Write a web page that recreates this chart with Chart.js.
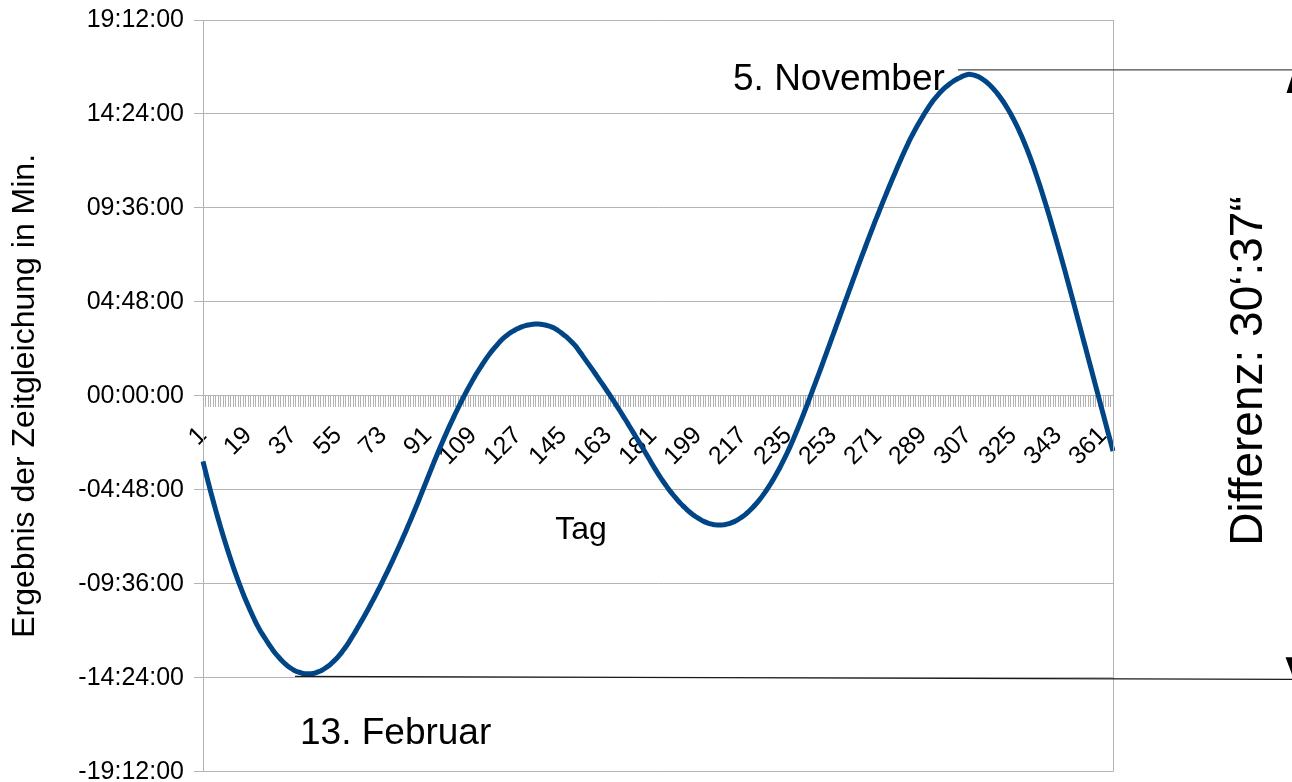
<!DOCTYPE html>
<html>
<head>
<meta charset="utf-8">
<title>Zeitgleichung</title>
<script src="https://cdn.jsdelivr.net/npm/chart.js@4/dist/chart.umd.min.js"></script>
<style>
  html, body { margin: 0; padding: 0; background: #ffffff; overflow: hidden; }
  canvas { display: block; }
</style>
</head>
<body>
<canvas id="chart" width="1292" height="782"></canvas>
<script>
// Zeitgleichung (Minuten) für jeden Tag des Jahres, Monat für Monat
const jan = [-3.35,-3.86,-4.37,-4.86,-5.33,-5.8,-6.25,-6.69,-7.12,-7.53,-7.93,-8.32,-8.7,-9.07,-9.42,-9.76,-10.09,-10.4,-10.7,-10.99,-11.27,-11.54,-11.79,-12.02,-12.22,-12.42,-12.62,-12.81,-12.99,-13.16,-13.31];
const feb = [-13.45,-13.58,-13.7,-13.81,-13.9,-13.98,-14.05,-14.1,-14.14,-14.18,-14.19,-14.2,-14.19,-14.18,-14.15,-14.1,-14.05,-13.98,-13.9,-13.81,-13.71,-13.59,-13.47,-13.33,-13.18,-13.01,-12.84,-12.65];
const mar = [-12.45,-12.24,-12.03,-11.81,-11.59,-11.37,-11.14,-10.91,-10.67,-10.43,-10.19,-9.94,-9.69,-9.43,-9.17,-8.91,-8.64,-8.37,-8.09,-7.81,-7.53,-7.24,-6.95,-6.65,-6.35,-6.05,-5.74,-5.43,-5.11,-4.79,-4.47];
const apr = [-4.15,-3.83,-3.51,-3.2,-2.89,-2.59,-2.29,-2.0,-1.71,-1.43,-1.16,-0.89,-0.63,-0.37,-0.12,0.13,0.37,0.6,0.83,1.05,1.26,1.46,1.66,1.85,2.03,2.2,2.36,2.51,2.66,2.8];
const may = [2.93,3.04,3.14,3.23,3.31,3.38,3.44,3.5,3.55,3.59,3.62,3.64,3.66,3.67,3.67,3.66,3.64,3.62,3.58,3.54,3.49,3.42,3.34,3.25,3.15,3.05,2.94,2.82,2.69,2.55,2.38];
const jun = [2.2,2.02,1.84,1.66,1.48,1.3,1.12,0.93,0.74,0.56,0.37,0.18,-0.01,-0.21,-0.41,-0.61,-0.81,-1.02,-1.22,-1.43,-1.64,-1.85,-2.06,-2.27,-2.48,-2.69,-2.91,-3.12,-3.34,-3.56];
const jul = [-3.77,-3.97,-4.17,-4.36,-4.54,-4.72,-4.89,-5.05,-5.2,-5.35,-5.49,-5.62,-5.74,-5.86,-5.97,-6.07,-6.16,-6.24,-6.32,-6.39,-6.45,-6.5,-6.54,-6.57,-6.59,-6.6,-6.6,-6.59,-6.57,-6.54,-6.5];
const aug = [-6.45,-6.39,-6.32,-6.24,-6.15,-6.05,-5.94,-5.82,-5.69,-5.55,-5.4,-5.24,-5.07,-4.89,-4.7,-4.5,-4.29,-4.07,-3.84,-3.6,-3.35,-3.09,-2.82,-2.54,-2.25,-1.95,-1.64,-1.32,-1.0,-0.67,-0.34];
const sep = [0.0,0.34,0.68,1.02,1.36,1.71,2.06,2.41,2.76,3.11,3.46,3.81,4.16,4.51,4.86,5.21,5.56,5.91,6.26,6.61,6.95,7.29,7.63,7.97,8.3,8.63,8.96,9.28,9.6,9.92];
const oct = [10.23,10.54,10.85,11.15,11.45,11.75,12.04,12.33,12.61,12.88,13.15,13.39,13.63,13.86,14.08,14.29,14.5,14.7,14.89,15.07,15.23,15.38,15.52,15.65,15.77,15.87,15.97,16.06,16.14,16.21,16.27];
const nov = [16.34,16.39,16.42,16.42,16.4,16.36,16.31,16.24,16.16,16.07,15.96,15.84,15.71,15.56,15.4,15.23,15.05,14.85,14.64,14.42,14.18,13.93,13.67,13.39,13.1,12.79,12.47,12.13,11.78,11.41];
const dec = [11.03,10.64,10.24,9.83,9.41,8.98,8.54,8.1,7.65,7.2,6.74,6.28,5.81,5.34,4.86,4.38,3.9,3.42,2.94,2.46,1.98,1.5,1.02,0.54,0.06,-0.42,-0.9,-1.38,-1.86,-2.34,-2.82];

const eot = [].concat(jan, feb, mar, apr, may, jun, jul, aug, sep, oct, nov, dec);
const days = eot.map((_, i) => i + 1);

// Beschriftete Tage der x-Achse
const labeledDays = [1,19,37,55,73,91,109,127,145,163,181,199,217,235,253,271,289,307,325,343,361];

// Wertebereich und Schrittweite der y-Achse (Minuten, als hh:mm:ss dargestellt)
const yMin = -19.2, yMax = 19.2, yStep = 4.8;

const FONT = "'Liberation Sans', Arial, sans-serif";

function pad2(n) { return String(n).padStart(2, '0'); }
function asClock(v) {
  const sign = v < -1e-9 ? '-' : '';
  const total = Math.round(Math.abs(v) * 3600);
  const h = Math.floor(total / 3600);
  const m = Math.floor((total % 3600) / 60);
  const s = total % 60;
  return sign + pad2(h) + ':' + pad2(m) + ':' + pad2(s);
}

const maxValue = Math.max(...eot);
const minValue = Math.min(...eot);

// Beschriftungen, Extremwert-Linien und Pfeile
const notes = {
  id: 'notes',
  afterDraw(chart) {
    const { ctx, chartArea: a, scales: { y } } = chart;
    ctx.save();

    // rechter Rahmen des Diagrammbereichs
    ctx.strokeStyle = '#b3b3b3';
    ctx.lineWidth = 1;
    ctx.beginPath();
    ctx.moveTo(a.right + 0.5, a.top);
    ctx.lineTo(a.right + 0.5, a.bottom);
    ctx.stroke();

    const yTop = y.getPixelForValue(maxValue) - 4.5;
    const yBot = y.getPixelForValue(minValue) + 2.5;

    // Linie am Maximum
    ctx.strokeStyle = '#4a4a4a';
    ctx.lineWidth = 1.3;
    ctx.beginPath();
    ctx.moveTo(958, yTop);
    ctx.lineTo(1292, yTop);
    ctx.stroke();

    // Linie am Minimum
    ctx.strokeStyle = '#1a1a1a';
    ctx.lineWidth = 1.2;
    ctx.beginPath();
    ctx.moveTo(295, yBot);
    ctx.lineTo(1292, yBot + 3);
    ctx.stroke();

    // Pfeilspitzen
    ctx.fillStyle = '#000000';
    ctx.beginPath();
    ctx.moveTo(1294, yTop);
    ctx.lineTo(1286.5, yTop + 23);
    ctx.lineTo(1301.5, yTop + 23);
    ctx.closePath();
    ctx.fill();
    ctx.beginPath();
    ctx.moveTo(1294, yBot + 3);
    ctx.lineTo(1285.5, yBot - 19);
    ctx.lineTo(1302.5, yBot - 19);
    ctx.closePath();
    ctx.fill();

    ctx.fillStyle = '#000000';
    ctx.textAlign = 'left';
    ctx.textBaseline = 'alphabetic';
    ctx.font = '37px ' + FONT;
    ctx.fillText('5. November', 733, 90);
    ctx.fillText('13. Februar', 300, 744);

    ctx.font = '32px ' + FONT;
    ctx.textAlign = 'center';
    ctx.fillText('Tag', 581, 539);

    ctx.save();
    ctx.translate(1262, 371);
    ctx.rotate(-Math.PI / 2);
    ctx.font = '46px ' + FONT;
    ctx.textAlign = 'center';
    ctx.textBaseline = 'alphabetic';
    ctx.fillText('Differenz: 30\u2018:37\u201C', 0, 0);
    ctx.restore();

    ctx.restore();
  }
};

new Chart(document.getElementById('chart'), {
  type: 'line',
  data: {
    labels: days,
    datasets: [{
      label: 'Zeitgleichung',
      data: eot,
      borderColor: '#004586',
      borderWidth: 5,
      pointRadius: 0,
      tension: 0.2,
      fill: false
    }]
  },
  options: {
    responsive: false,
    animation: false,
    layout: { padding: { top: 20, right: 179, bottom: 10, left: 0 } },
    plugins: { legend: { display: false }, tooltip: { enabled: false } },
    scales: {
      x: {
        type: 'category',
        position: { y: 0 },
        grid: { display: true, drawOnChartArea: false, drawTicks: true, tickLength: 11, color: '#b3b3b3', lineWidth: 1 },
        border: { display: true, color: '#b3b3b3' },
        ticks: {
          autoSkip: false,
          minRotation: 45,
          maxRotation: 45,
          padding: 14,
          color: '#000000',
          font: { family: FONT, size: 25 },
          callback: (val, idx) => labeledDays.includes(days[idx]) ? String(days[idx]) : ''
        }
      },
      y: {
        min: yMin,
        max: yMax,
        afterFit: (scale) => { scale.width = 203; },
        grid: { color: '#b3b3b3', lineWidth: 1, tickLength: 9 },
        border: { display: true, color: '#b3b3b3' },
        ticks: {
          stepSize: yStep,
          padding: 10,
          color: '#000000',
          font: { family: FONT, size: 25, lineHeight: 0.02 },
          callback: (v) => asClock(v)
        },
        title: {
          display: true,
          text: 'Ergebnis der Zeitgleichung in Min.',
          color: '#000000',
          font: { family: FONT, size: 32 },
          padding: { top: 6, bottom: 0 }
        }
      }
    }
  },
  plugins: [notes]
});
</script>
</body>
</html>
